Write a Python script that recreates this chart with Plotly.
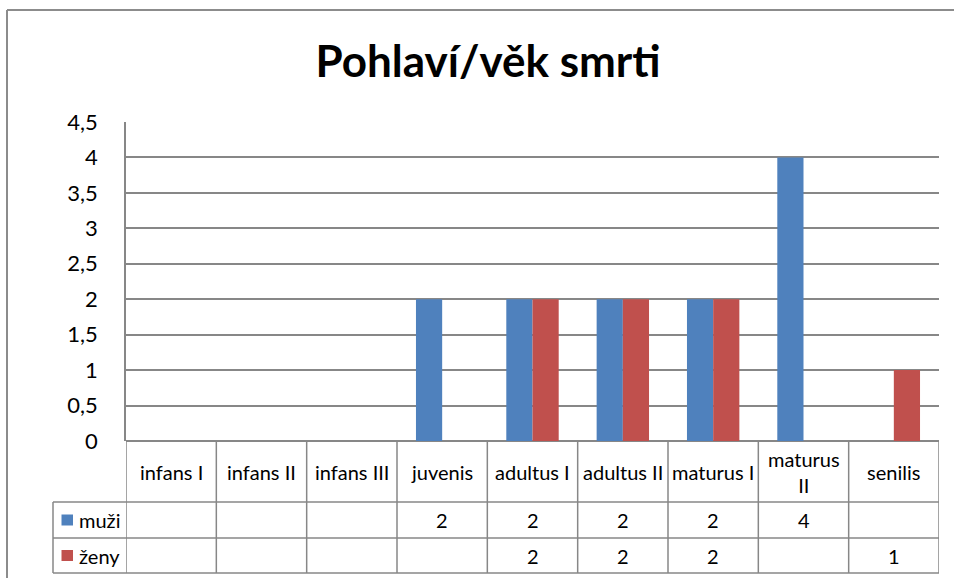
import plotly.graph_objects as go

categories = ["infans I", "infans II", "infans III", "juvenis", "adultus I",
              "adultus II", "maturus I", "maturus II", "senilis"]
header_labels = ["infans I", "infans II", "infans III", "juvenis", "adultus I",
                 "adultus II", "maturus I", "maturus<br>II", "senilis"]
muzi = [None, None, None, 2, 2, 2, 2, 4, None]
zeny = [None, None, None, None, 2, 2, 2, None, 1]
series_names = ["muži", "ženy"]
colors = ["#4F81BD", "#C0504D"]
y_ticks = [0, 0.5, 1, 1.5, 2, 2.5, 3, 3.5, 4, 4.5]

W, H = 954, 578
L, R, T, B = 126, 939, 122, 441   # plot area in pixels
PW, PH = R - L, B - T

def px(xp):
    return (xp - L) / PW

def py(yp):
    return (B - yp) / PH

FONT = "Lato, 'Open Sans', sans-serif"
GRID = "#878787"

fig = go.Figure()
for name, vals, col in zip(series_names, [muzi, zeny], colors):
    fig.add_trace(go.Bar(x=categories, y=vals, name=name, marker_color=col,
                         marker_line_width=0, hoverinfo="skip"))

shapes = []
# outer chart border (left & top)
shapes.append(dict(type="line", xref="paper", yref="paper", x0=px(7), x1=px(960),
                   y0=py(10), y1=py(10), line=dict(color="#8c8c8c", width=2)))
shapes.append(dict(type="line", xref="paper", yref="paper", x0=px(7), x1=px(7),
                   y0=py(10), y1=py(590), line=dict(color="#8c8c8c", width=2)))

row_tops = [441, 502, 538, 573]
for yp in row_tops[1:]:
    shapes.append(dict(type="line", xref="paper", yref="paper", x0=px(53), x1=1,
                       y0=py(yp), y1=py(yp), line=dict(color=GRID, width=1.5)))
for k in range(len(categories) + 1):
    shapes.append(dict(type="line", xref="x", yref="paper", x0=k - 0.5, x1=k - 0.5,
                       y0=0, y1=py(573), line=dict(color=GRID, width=1.5)))
shapes.append(dict(type="line", xref="paper", yref="paper", x0=px(53), x1=px(53),
                   y0=py(502), y1=py(573), line=dict(color=GRID, width=1.5)))

annotations = []
tfont = dict(family=FONT, size=20, color="black")
for i, lab in enumerate(header_labels):
    annotations.append(dict(x=categories[i], xref="x", y=py(471.5), yref="paper",
                            text=lab, showarrow=False, font=tfont,
                            xanchor="center", yanchor="middle"))
row_centers = [520, 555.5]
for r, (name, vals, col) in enumerate(zip(series_names, [muzi, zeny], colors)):
    yc = row_centers[r]
    shapes.append(dict(type="rect", xref="paper", yref="paper",
                       x0=px(61.5), x1=px(73), y0=py(yc - 5.5), y1=py(yc + 5.5),
                       fillcolor=col, line_width=0))
    annotations.append(dict(x=px(77), xref="paper", y=py(yc), yref="paper",
                            text=name, showarrow=False, font=tfont,
                            xanchor="left", yanchor="middle"))
    for i, v in enumerate(vals):
        if v is not None:
            annotations.append(dict(x=categories[i], xref="x", y=py(yc), yref="paper",
                                    text=str(v), showarrow=False, font=tfont,
                                    xanchor="center", yanchor="middle"))

fig.update_layout(
    width=W, height=H,
    margin=dict(l=L, r=W - R, t=T, b=H - B, pad=0),
    paper_bgcolor="white", plot_bgcolor="white",
    barmode="group", bargap=0.42, bargroupgap=0,
    showlegend=False,
    separators=", ",
    title=dict(text="<b>Pohlaví/věk smrti</b>", x=(313 + 663) / 2 / W, xanchor="center",
               y=1 - 62 / H, yanchor="middle",
               font=dict(family=FONT, size=44, color="black")),
    xaxis=dict(type="category", range=[-0.5, len(categories) - 0.5],
               showticklabels=False, showgrid=False, zeroline=False, showline=False,
               ticks="", fixedrange=True),
    yaxis=dict(range=[0, 4.5], tickvals=y_ticks, showgrid=True, gridcolor=GRID,
               gridwidth=1.5, zeroline=True, zerolinecolor=GRID, zerolinewidth=1.5,
               showline=True, linecolor=GRID, linewidth=1.5,
               ticks="", ticklabelstandoff=22,
               tickfont=dict(family=FONT, size=22, color="black"), fixedrange=True),
    shapes=shapes, annotations=annotations,
)

fig.write_html("out.html", config={"displayModeBar": False},
               post_script="document.body.style.margin='0';document.body.style.overflow='hidden';")
